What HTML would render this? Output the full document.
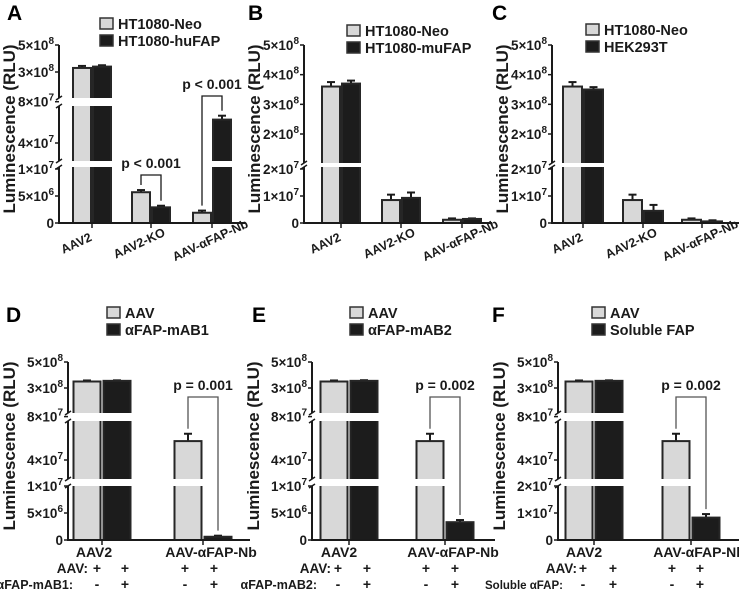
<!DOCTYPE html>
<html><head><meta charset="utf-8"><style>
html,body{margin:0;padding:0;background:#fff;}
svg{display:block;font-family:"Liberation Sans",Arial,sans-serif;font-weight:bold;}
</style></head><body>
<svg id="fig" width="739" height="595" viewBox="0 0 739 595"></svg>
<script>
// ---------- data ----------
const catsTop = ["AAV2", "AAV2-KO", "AAV-αFAP-Nb"];
const catsBottom = ["AAV2", "AAV-αFAP-Nb"];
const aNeo = [3.3e8, 5.7e6, 1.9e6];
const aNeoErr = [1.5e7, 4e5, 4e5];
const aHu = [3.4e8, 2.9e6, 6.4e7];
const aHuErr = [1e7, 3e5, 4e6];
const bNeo = [3.6e8, 8.5e6, 1.2e6];
const bNeoErr = [1.5e7, 2e6, 5e5];
const bMu = [3.7e8, 9.3e6, 1.5e6];
const bMuErr = [1e7, 2e6, 2e5];
const cNeo = [3.6e8, 8.5e6, 1.2e6];
const cNeoErr = [1.5e7, 2e6, 5e5];
const cHek = [3.5e8, 4.5e6, 0.6e6];
const cHekErr = [8e6, 2.2e6, 4e5];
const dAav = [3.5e8, 5.8e7];
const dAavErr = [8e6, 7e6];
const dMab1 = [3.55e8, 0.6e6];
const dMab1Err = [4e6, 2e5];
const eAav = [3.5e8, 5.8e7];
const eAavErr = [8e6, 7e6];
const eMab2 = [3.55e8, 3.3e6];
const eMab2Err = [5e6, 4e5];
const fAav = [3.5e8, 5.8e7];
const fAavErr = [8e6, 7e6];
const fSol = [3.55e8, 8.3e6];
const fSolErr = [4e6, 1.3e6];
const ticksAD = [[0,"0",""],[5e6,"5×10","6"],[1e7,"1×10","7"],[4e7,"4×10","7"],[8e7,"8×10","7"],[3e8,"3×10","8"],[5e8,"5×10","8"]];
const ticksBC = [[0,"0",""],[1e7,"1×10","7"],[2e7,"2×10","7"],[2e8,"2×10","8"],[3e8,"3×10","8"],[4e8,"4×10","8"],[5e8,"5×10","8"]];
const ticksF = [[0,"0",""],[1e7,"1×10","7"],[2e7,"2×10","7"],[4e7,"4×10","7"],[8e7,"8×10","7"],[3e8,"3×10","8"],[5e8,"5×10","8"]];

const NS = "http://www.w3.org/2000/svg";
const svg = document.getElementById("fig");
function mk(tag, attrs, parent, text){
  const e = document.createElementNS(NS, tag);
  for (const k in attrs) e.setAttribute(k, attrs[k]);
  if (text !== undefined) e.textContent = text;
  (parent || svg).appendChild(e);
  return e;
}

function makeScale(segs){
  return function(v){
    for (const s of segs){
      const y = s[1] + (v - s[0]) * (s[3] - s[1]) / (s[2] - s[0]);
      if (y >= s[4] - 1.5) return y;
    }
    const s = segs[segs.length-1];
    return s[1] + (v - s[0]) * (s[3] - s[1]) / (s[2] - s[0]);
  };
}

function panel(p){
  const g = mk("g", {});
  
  
  const y = makeScale(p.segs);
  const L = mk("text", {x:p.letterX, y:p.letterY, "font-size":21}, g, p.letter);
  
  
  p.legend.forEach((t,i)=>{
    const r = mk("rect", {x:p.legX, y:p.legY+i*17, width:13, height:11, fill:i?"#1c1c1c":"#d8d8d8", stroke:"#333", "stroke-width":1.5}, g);
    
    
    const tx = mk("text", {x:p.legX+18, y:p.legY+i*17+11, "font-size":14.5, fill:"#1a1a1a"}, g, t);
    
    
  });
  const cy = (p.segs[p.segs.length-1][4] + p.base)/2 - 5;
  const yt = mk("text", {x:0, y:0, "font-size":17, "text-anchor":"middle", transform:`translate(${p.titleX},${cy}) rotate(-90)`, fill:"#1a1a1a"}, g, "Luminescence (RLU)");
  
  
  const n = p.cats.length;
  for (let i=0;i<n;i++){
    const c = p.axisX + p.centers[i];
    [[p.s1,p.e1,"#d8d8d8",-1],[p.s2,p.e2,"#1c1c1c",1]].forEach(([vals,errs,fill,side])=>{
      const x0 = side<0 ? c - p.gap/2 - p.bw : c + p.gap/2;
      const yt2 = y(vals[i]);
      const ye = y(vals[i]+errs[i]);
      const bc = x0 + p.bw/2;
      const el = mk("line", {x1:bc, x2:bc, y1:yt2, y2:ye, stroke:"#1a1a1a", "stroke-width":2}, g);
      
      
      mk("line", {x1:bc-4, x2:bc+4, y1:ye, y2:ye, stroke:"#1a1a1a", "stroke-width":2}, g);
      const b = mk("rect", {x:x0, y:yt2, width:p.bw, height:Math.max(0.5,p.base-yt2), fill:fill, stroke:"#262626", "stroke-width":2}, g);
      
      
    });
  }
  mk("line", {x1:p.axisX, x2:p.axisX, y1:p.segs[p.segs.length-1][4], y2:p.base+1, stroke:"#1a1a1a", "stroke-width":2}, g);
  mk("line", {x1:p.axisX-1, x2:p.axisEnd, y1:p.base, y2:p.base, stroke:"#1a1a1a", "stroke-width":2}, g);
  for (let k=0;k<p.segs.length-1;k++){
    const yb = p.segs[k][4], ya = p.segs[k+1][5];
    const w = mk("rect", {x:p.axisX-3, y:ya+1, width:p.axisEnd-p.axisX+6, height:yb-ya-2, fill:"#fff"}, g);
    
    
    mk("path", {d:`M${p.axisX-3},${ya+3} L${p.axisX+3},${ya-1} M${p.axisX-3},${yb+1} L${p.axisX+3},${yb-3}`, stroke:"#1a1a1a", "stroke-width":1.5, fill:"none"}, g);
  }
  p.ticks.forEach(t=>{
    const ty = y(t[0]);
    mk("line", {x1:p.axisX-4, x2:p.axisX, y1:ty, y2:ty, stroke:"#1a1a1a", "stroke-width":1.5}, g);
    const tx = mk("text", {x:p.axisX-5, y:ty+5, "font-size":13.5, "text-anchor":"end", fill:"#1a1a1a"}, g);
    
    
    mk("tspan", {}, tx, t[1]);
    if (t[2]) mk("tspan", {dy:-6, "font-size":10}, tx, t[2]);
  });
  for (let i=0;i<n;i++){
    const c = p.axisX + p.centers[i];
    mk("line", {x1:c, x2:c, y1:p.base, y2:p.base+5, stroke:"#1a1a1a", "stroke-width":1.5}, g);
    let lab;
    if (p.rotated){
      const lx = c + p.labDx[i], ly = p.base + 24 - p.labDy[i];
      lab = mk("text", {x:0, y:0, "font-size":12.5, "text-anchor":"middle", transform:`translate(${lx},${ly}) rotate(-25)`, fill:"#1a1a1a"}, g, p.cats[i]);
    } else {
      lab = mk("text", {x:c + p.labDx[i], y:p.base+17, "font-size":14, "text-anchor":"middle", fill:"#1a1a1a"}, g, p.cats[i]);
    }
    
    
  }
  (p.brackets||[]).forEach(br=>{
    const c = p.axisX + p.centers[br.cat];
    const xl = c - p.gap/2 - p.bw/2, xr = c + p.gap/2 + p.bw/2;
    const yl = y(p.s1[br.cat]+p.e1[br.cat]) - 5, yr = y(p.s2[br.cat]+p.e2[br.cat]) - 5;
    const pth = mk("path", {d:`M${xl},${yl} L${xl},${br.top} L${xr},${br.top} L${xr},${yr}`, fill:"none", stroke:br.col, "stroke-width":1.3}, g);
    
    
    const t = mk("text", {x:(xl+xr)/2, y:br.top-7, "font-size":14, "text-anchor":"middle", fill:"#1a1a1a"}, g, br.txt);
    
    
  });
  if (p.rows){
    p.rows.forEach((r,ri)=>{
      const ry = 573 + ri*16;
      const t = mk("text", {x:p.axisX + r.lx, y:ry, "font-size":r.fs, "text-anchor":"end", fill:"#1a1a1a"}, g, r.label);
      
      
      r.marks.forEach((m,mi)=>{
        const s = mk("text", {x:p.axisX + p.rowX[mi], y:ry, "font-size":14, "text-anchor":"middle", fill:"#1a1a1a"}, g, m);
        
        
      });
    });
  }
}

const segA = [[0,223,1e7,169,168,223],[4e7,143,8e7,104,107,160],[3e8,72,5e8,45,45,97]];
const segBC = [[0,223,1e7,196,168,223],[2e8,134,5e8,45,45,162]];
const segD = [[0,540,5e6,513,487,540],[4e7,460,8e7,418,422,478],[3e8,388,5e8,362,362,412]];
const segF = [[0,540,1e7,513,487,540],[4e7,460,8e7,418,422,478],[3e8,388,5e8,362,362,412]];

panel({name:"panel-a", letter:"A", letterX:7, letterY:20, legend:["HT1080-Neo","HT1080-huFAP"], legX:100, legY:18,
  axisX:59, axisEnd:245, base:223, titleX:15, segs:segA, ticks:ticksAD, cats:catsTop, centers:[33,92,153], bw:18, gap:2,
  s1:aNeo, e1:aNeoErr, s2:aHu, e2:aHuErr, rotated:true, labDx:[-14,-10,0], labDy:[0,0,3],
  brackets:[{cat:1, top:175, txt:"p < 0.001", col:"#1a1a1a"},{cat:2, top:96, txt:"p < 0.001", col:"#1a1a1a"}]});
panel({name:"panel-b", letter:"B", letterX:248, letterY:20, legend:["HT1080-Neo","HT1080-muFAP"], legX:347, legY:25,
  axisX:304, axisEnd:492, base:223, titleX:260, segs:segBC, ticks:ticksBC, cats:catsTop, centers:[37,97,158], bw:18, gap:2,
  s1:bNeo, e1:bNeoErr, s2:bMu, e2:bMuErr, rotated:true, labDx:[-14,-10,0], labDy:[0,0,3]});
panel({name:"panel-c", letter:"C", letterX:492, letterY:20, legend:["HT1080-Neo","HEK293T"], legX:586, legY:24,
  axisX:552, axisEnd:739, base:223, titleX:508, segs:segBC, ticks:ticksBC, cats:catsTop, centers:[31,91,150], bw:19, gap:2,
  s1:cNeo, e1:cNeoErr, s2:cHek, e2:cHekErr, rotated:true, labDx:[-14,-10,0], labDy:[0,0,3]});
panel({name:"panel-d", letter:"D", letterX:6, letterY:322, legend:["AAV","αFAP-mAB1"], legX:107, legY:307,
  axisX:68, axisEnd:250, base:540, titleX:15, segs:segD, ticks:ticksAD, cats:catsBottom, centers:[34,135], bw:27, gap:3,
  s1:dAav, e1:dAavErr, s2:dMab1, e2:dMab1Err, rotated:false, labDx:[-8,8],
  brackets:[{cat:1, top:397, txt:"p = 0.001", col:"#555"}],
  rowX:[29,57,117,146], rows:[{label:"AAV:", lx:20, fs:13.5, marks:["+","+","+","+"]},{label:"αFAP-mAB1:", lx:5, fs:12.5, marks:["-","+","-","+"]}]});
panel({name:"panel-e", letter:"E", letterX:252, letterY:322, legend:["AAV","αFAP-mAB2"], legX:350, legY:307,
  axisX:312, axisEnd:495, base:540, titleX:259, segs:segD, ticks:ticksAD, cats:catsBottom, centers:[37,133], bw:27, gap:3,
  s1:eAav, e1:eAavErr, s2:eMab2, e2:eMab2Err, rotated:false, labDx:[-10,8],
  brackets:[{cat:1, top:397, txt:"p = 0.002", col:"#555"}],
  rowX:[26,55,114,143], rows:[{label:"AAV:", lx:19, fs:13.5, marks:["+","+","+","+"]},{label:"αFAP-mAB2:", lx:5, fs:12.5, marks:["-","+","-","+"]}]});
panel({name:"panel-f", letter:"F", letterX:492, letterY:322, legend:["AAV","Soluble FAP"], legX:592, legY:307,
  axisX:558, axisEnd:739, base:540, titleX:505, segs:segF, ticks:ticksF, cats:catsBottom, centers:[36,133], bw:27, gap:3,
  s1:fAav, e1:fAavErr, s2:fSol, e2:fSolErr, rotated:false, labDx:[-10,8],
  brackets:[{cat:1, top:397, txt:"p = 0.002", col:"#555"}],
  rowX:[25,55,114,142], rows:[{label:"AAV:", lx:19, fs:13.5, marks:["+","+","+","+"]},{label:"Soluble αFAP:", lx:5, fs:11.5, marks:["-","+","-","+"]}]});
</script>
</body></html>
